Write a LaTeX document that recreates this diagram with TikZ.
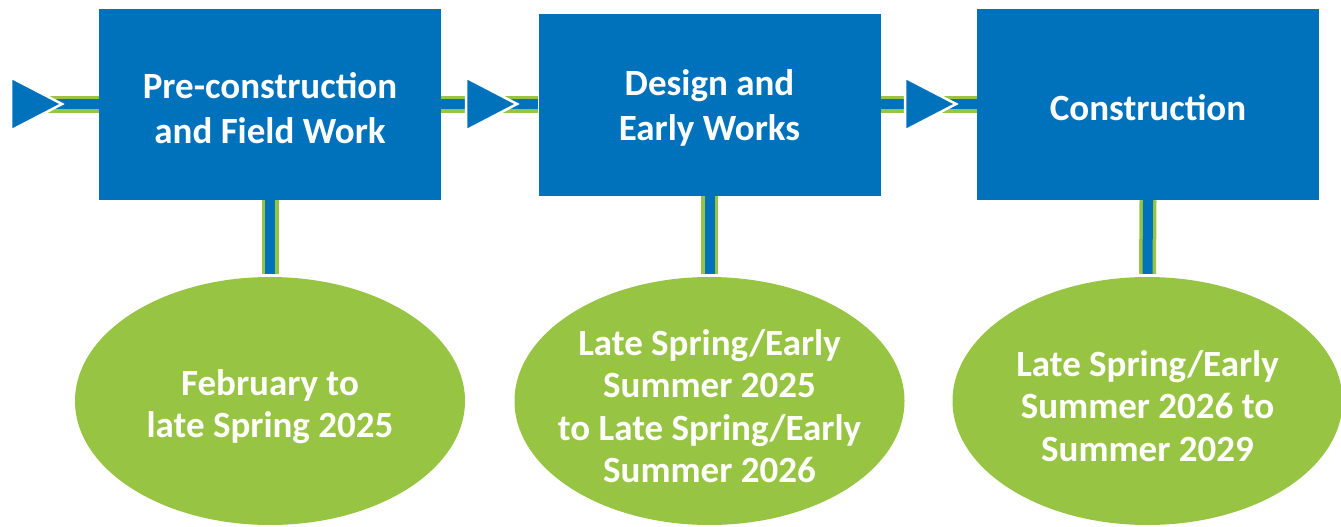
\documentclass[tikz,border=0pt]{standalone}
\usepackage{fontspec}
\setmainfont{Carlito}
\usepackage{tikz}
\usetikzlibrary{shapes.geometric}

\definecolor{stageblue}{RGB}{0,114,187}
\definecolor{stagegreen}{RGB}{151,197,67}

\tikzset{
  stage/.style={fill=stageblue, inner sep=0pt,
    minimum width=342pt, minimum height=191pt},
  period/.style={ellipse, fill=stagegreen, inner sep=0pt,
    minimum width=390pt, minimum height=248pt},
  boxtext/.style={text=white, align=center, inner sep=0pt,
    font=\bfseries\fontsize{37}{44.5}\selectfont},
  periodtext/.style={text=white, align=center, inner sep=0pt,
    font=\bfseries\fontsize{37}{42.5}\selectfont},
  link/.style={draw=stagegreen, line width=3.5pt, double=stageblue,
    double distance=10pt},
  marker/.style={fill=stageblue, draw=white, line width=2.5pt}
}

\begin{document}
\begin{tikzpicture}[x=1pt, y=-1pt]
            \useasboundingbox (0,0) rectangle (1341,527);

            \node[stage] (s1) at (270, 104.5) {};
            \node[stage, minimum height=182pt] (s2) at (709.5, 105) {};
            \node[stage] (s3) at (1148, 104.5) {};
            \node[boxtext] (b1) at (270, 108) {Pre-construction\\and Field Work};
            \node[boxtext] (b2) at (709.5, 108) {Design and\\Early Works};
            \node[boxtext] (b3) at (1148, 107.5) {Construction};

            \node[period] (p1) at (270, 401) {};
            \node[period] (p2) at (709.5, 401) {};
            \node[period] (p3) at (1147.5, 401) {};
            \node[periodtext] (t1) at (270, 406.5) {February to\\late Spring 2025};
            \node[periodtext] (t2) at (709.5, 406) {Late Spring/Early\\Summer 2025\\to Late Spring/Early\\Summer 2026};
            \node[periodtext] (t3) at (1147.5, 406) {Late Spring/Early\\Summer 2026 to\\Summer 2029};

            \coordinate (start) at (47, 104);
            \coordinate (m1) at (11, 104);
            \coordinate (m2) at (466, 104);
            \coordinate (m3) at (905, 104);

            \draw[link] (start) -- (s1.west |- start);
            \draw[link] (s1.east |- start) -- (s2.west |- start);
            \draw[link] (s2.east |- start) -- (s3.west |- start);

            \draw[link] (s1.south) -- ([yshift=3pt]p1.north);
            \draw[link] (s2.south) -- ([yshift=3pt]p2.north);
            \draw[link] (s3.south) -- ([yshift=3pt]p3.north);

            \foreach \m in {m1, m2, m3}
              \draw[marker] (\m) -- ++(0,-26.5) -- ++(51,26.5) -- ++(-51,26.5) -- cycle;
        \end{tikzpicture}
\end{document}
